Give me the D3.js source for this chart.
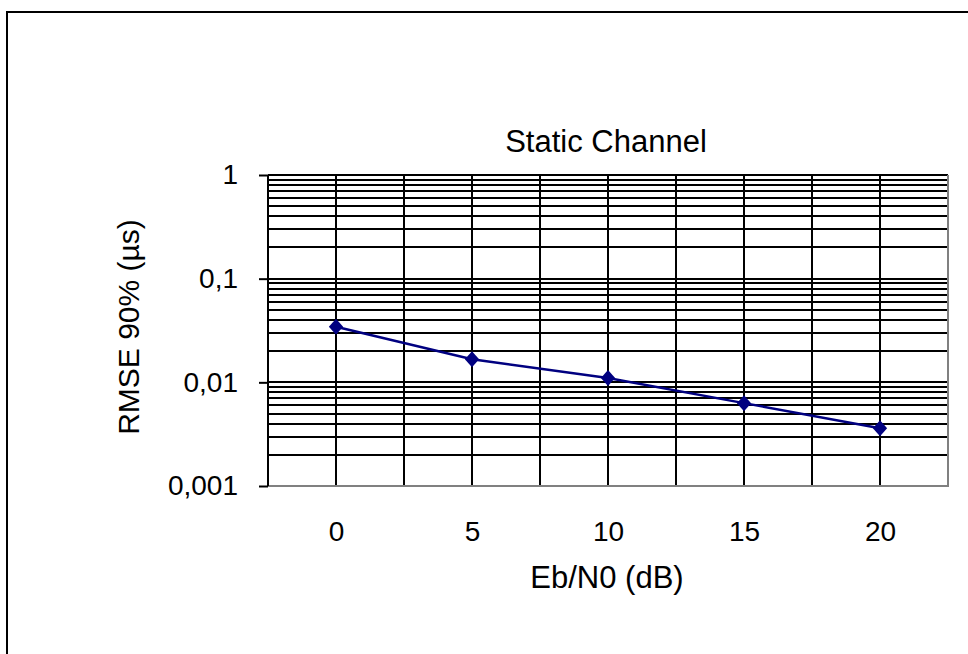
<!DOCTYPE html>
<html>
<head>
<meta charset="utf-8">
<script src="https://cdn.jsdelivr.net/npm/d3@7"></script>
<style>
	body { margin: 0; background: #fff; }
	svg { display: block; font-family: Arial, "Liberation Sans", sans-serif; }
</style>
</head>
<body>
<div class="c_chart"></div>
<script>
// data
const snr = [0, 5, 10, 15, 20];
const rmse = [0.0344, 0.0167, 0.0110, 0.0063, 0.0036];
const yTicks = [1, 0.1, 0.01, 0.001];
const yTickLabels = ["1", "0,1", "0,01", "0,001"];
const xTicks = [0, 5, 10, 15, 20];

const width = 968, height = 654;
const plot = {left: 268, right: 948, top: 175, bottom: 486};

let svg = d3.select(".c_chart").append("svg")
	.attr("width", width)
	.attr("height", height);

// outer frame (cut by the page edge)
svg.append("rect")
	.attr("x", 7).attr("y", 12)
	.attr("width", width + 20).attr("height", height + 20)
	.attr("fill", "none").attr("stroke", "#000").attr("stroke-width", 2);

let x = d3.scaleLinear().domain([-2.5, 22.5]).range([plot.left, plot.right]);
let y = d3.scaleLog().domain([0.001, 1]).range([plot.bottom, plot.top]);

// horizontal gridlines (major + minor)
let yGrid = y.ticks().filter(d => d > 0.001);
svg.append("g").selectAll("line")
	.data(yGrid).enter().append("line")
	.attr("x1", plot.left).attr("x2", plot.right)
	.attr("y1", d => Math.round(y(d))).attr("y2", d => Math.round(y(d)))
	.attr("stroke", "#000").attr("stroke-width", 2);

// vertical gridlines every 2.5
let xGrid = d3.range(0, 20.01, 2.5);
svg.append("g").selectAll("line")
	.data(xGrid).enter().append("line")
	.attr("x1", d => x(d)).attr("x2", d => x(d))
	.attr("y1", plot.top).attr("y2", plot.bottom)
	.attr("stroke", "#000").attr("stroke-width", 2);

// plot border right / bottom (grey)
svg.append("path")
	.attr("d", `M${plot.right},${plot.top}V${plot.bottom}H${plot.left}`)
	.attr("fill", "none").attr("stroke", "#808080").attr("stroke-width", 2);

// y axis
let yAxis = d3.axisLeft(y)
	.tickValues(yTicks)
	.tickFormat((d, i) => yTickLabels[i])
	.tickSize(9)
	.tickPadding(21);
let gy = svg.append("g")
	.attr("transform", `translate(${plot.left},0)`)
	.call(yAxis);
gy.select(".domain").attr("d", `M0,${plot.top}V${plot.bottom}`).attr("stroke-width", 2);
gy.selectAll(".tick line").attr("stroke-width", 2);
gy.selectAll("text").attr("font-size", 28).attr("font-family", "Arial, 'Liberation Sans', sans-serif").attr("fill", "#000");

// x axis labels
let xAxis = d3.axisBottom(x).tickValues(xTicks).tickSize(0).tickPadding(35);
let gx = svg.append("g")
	.attr("transform", `translate(0,${plot.bottom})`)
	.call(xAxis);
gx.select(".domain").remove();
gx.selectAll("text").attr("font-size", 28).attr("font-family", "Arial, 'Liberation Sans', sans-serif").attr("fill", "#000");

// series
let line = d3.line().x((d, i) => x(snr[i])).y(d => y(d));
svg.append("path")
	.datum(rmse)
	.attr("d", line)
	.attr("fill", "none").attr("stroke", "#000080").attr("stroke-width", 2.5);

svg.append("g").selectAll("path")
	.data(rmse).enter().append("path")
	.attr("d", d3.symbol().type(d3.symbolDiamond2).size(130))
	.attr("transform", (d, i) => `translate(${x(snr[i])},${y(d)}) scale(1,1.12)`)
	.attr("fill", "#000080");

// titles
svg.append("text")
	.attr("x", 606).attr("y", 152)
	.attr("text-anchor", "middle").attr("font-size", 31)
	.text("Static Channel");

svg.append("text")
	.attr("x", 607).attr("y", 588)
	.attr("text-anchor", "middle").attr("font-size", 31)
	.text("Eb/N0 (dB)");

svg.append("text")
	.attr("transform", "translate(139,327) rotate(-90)")
	.attr("text-anchor", "middle").attr("font-size", 30)
	.text("RMSE 90% (µs)");
</script>
</body>
</html>
